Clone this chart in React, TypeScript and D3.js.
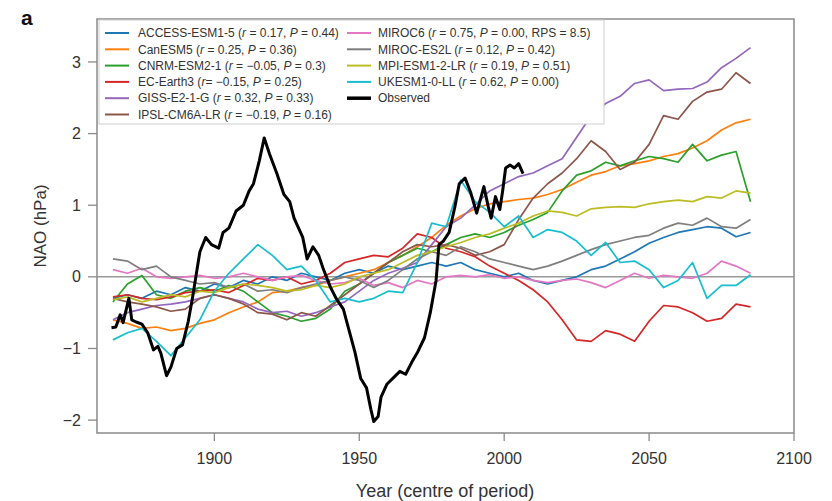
import * as d3 from 'd3';

// model runs, 5-year centred windows
const years = [1865, 1870, 1875, 1880, 1885, 1890, 1895, 1900, 1905, 1910, 1915, 1920, 1925, 1930, 1935, 1940, 1945, 1950, 1955, 1960, 1965, 1970, 1975, 1980, 1985, 1990, 1995, 2000, 2005, 2010, 2015, 2020, 2025, 2030, 2035, 2040, 2045, 2050, 2055, 2060, 2065, 2070, 2075, 2080, 2085];

const accessEsm = [-0.3, -0.25, -0.3, -0.2, -0.25, -0.15, -0.2, -0.1, -0.15, -0.05, -0.1, 0.0, -0.05, 0.05, 0.0, -0.05, 0.05, 0.1, 0.05, 0.15, 0.1, 0.15, 0.2, 0.15, 0.2, 0.1, 0.05, 0.0, 0.05, -0.05, -0.1, -0.05, 0.0, 0.1, 0.15, 0.25, 0.35, 0.47, 0.55, 0.62, 0.66, 0.7, 0.68, 0.56, 0.62];
const canEsm = [-0.6, -0.65, -0.72, -0.7, -0.75, -0.72, -0.65, -0.6, -0.5, -0.42, -0.35, -0.22, -0.2, -0.15, -0.12, -0.05, 0.0, 0.05, 0.1, 0.2, 0.3, 0.42, 0.55, 0.72, 0.85, 0.95, 1.02, 1.05, 1.08, 1.1, 1.15, 1.22, 1.32, 1.42, 1.47, 1.55, 1.58, 1.62, 1.68, 1.72, 1.8, 1.9, 2.05, 2.15, 2.2];
const cnrmEsm = [-0.35, -0.1, 0.02, -0.25, -0.3, -0.2, -0.15, -0.2, -0.12, -0.2, -0.35, -0.5, -0.55, -0.62, -0.58, -0.45, -0.2, -0.1, 0.05, 0.2, 0.3, 0.4, 0.35, 0.45, 0.55, 0.6, 0.55, 0.62, 0.72, 0.8, 0.9, 1.2, 1.42, 1.48, 1.6, 1.55, 1.62, 1.68, 1.65, 1.6, 1.85, 1.62, 1.7, 1.75, 1.05];
const ecEarth = [-0.28, -0.25, -0.3, -0.32, -0.28, -0.22, -0.2, -0.18, -0.22, -0.12, -0.02, -0.05, 0.0, -0.1, -0.05, 0.05, 0.2, 0.25, 0.3, 0.28, 0.4, 0.6, 0.55, 0.4, 0.35, 0.28, 0.15, 0.05, -0.05, -0.18, -0.35, -0.6, -0.88, -0.9, -0.75, -0.8, -0.9, -0.62, -0.4, -0.42, -0.5, -0.62, -0.58, -0.38, -0.42];
const gissE2 = [-0.6, -0.5, -0.45, -0.4, -0.38, -0.35, -0.3, -0.25, -0.3, -0.35, -0.45, -0.5, -0.48, -0.55, -0.5, -0.42, -0.35, -0.2, -0.05, 0.05, 0.12, 0.2, 0.45, 0.7, 0.82, 1.0, 1.2, 1.3, 1.4, 1.45, 1.55, 1.65, 1.95, 2.25, 2.42, 2.52, 2.7, 2.75, 2.6, 2.62, 2.63, 2.72, 2.92, 3.05, 3.2];
const ipslCm6 = [-0.3, -0.35, -0.38, -0.42, -0.48, -0.45, -0.3, -0.25, -0.3, -0.38, -0.5, -0.52, -0.6, -0.5, -0.55, -0.4, -0.25, -0.1, 0.05, 0.2, 0.35, 0.45, 0.42, 0.45, 0.4, 0.3, 0.35, 0.45, 0.8, 1.1, 1.3, 1.45, 1.65, 1.9, 1.75, 1.5, 1.6, 1.85, 2.25, 2.2, 2.45, 2.58, 2.62, 2.85, 2.7];
const miroc6 = [0.1, 0.05, 0.12, 0.0, -0.02, 0.0, 0.02, -0.02, 0.0, 0.05, 0.0, -0.05, 0.0, 0.02, -0.05, -0.1, -0.08, -0.02, -0.12, -0.08, -0.15, -0.05, -0.1, 0.0, 0.02, 0.0, 0.03, -0.02, 0.0, -0.05, -0.08, -0.05, -0.03, -0.08, -0.15, -0.05, 0.05, -0.02, 0.02, 0.0, -0.02, 0.05, 0.22, 0.15, 0.05];
const mirocEs2l = [0.25, 0.22, 0.1, 0.15, 0.0, -0.05, -0.1, -0.08, -0.15, -0.1, -0.2, -0.18, -0.22, -0.15, -0.1, -0.05, 0.0, -0.05, -0.15, -0.05, 0.1, 0.25, 0.35, 0.3, 0.42, 0.35, 0.25, 0.2, 0.15, 0.1, 0.15, 0.22, 0.3, 0.38, 0.45, 0.5, 0.55, 0.58, 0.68, 0.75, 0.72, 0.82, 0.7, 0.68, 0.8];
const mpiEsm = [-0.32, -0.28, -0.35, -0.3, -0.25, -0.28, -0.2, -0.22, -0.15, -0.1, -0.12, -0.15, -0.2, -0.18, -0.12, -0.15, -0.1, 0.0, 0.05, 0.1, 0.2, 0.3, 0.35, 0.42, 0.48, 0.55, 0.6, 0.68, 0.75, 0.85, 0.92, 0.9, 0.85, 0.95, 0.97, 0.98, 0.97, 1.02, 1.05, 1.07, 1.05, 1.12, 1.1, 1.2, 1.17];
const ukEsm = [-0.88, -0.78, -0.72, -0.9, -1.1, -0.85, -0.6, -0.2, 0.05, 0.25, 0.45, 0.3, 0.1, 0.15, -0.05, -0.35, -0.3, -0.35, -0.3, -0.2, -0.22, 0.2, 0.75, 0.7, 1.35, 1.05, 0.9, 0.7, 0.85, 0.55, 0.66, 0.62, 0.5, 0.3, 0.48, 0.2, 0.22, 0.1, -0.15, -0.05, 0.2, -0.3, -0.12, -0.12, 0.03];

// observed record
const obsYears = [1864.5, 1866, 1867.5, 1868.5, 1870.5, 1871.5, 1873, 1875, 1877, 1879, 1880.5, 1881.5, 1883.5, 1885, 1887, 1889, 1891, 1892.5, 1894, 1895, 1897, 1899, 1901.5, 1903, 1905, 1907.5, 1910, 1912, 1913.5, 1915.5, 1917.2, 1919, 1921.5, 1924, 1926, 1927.5, 1930.5, 1932, 1934, 1936, 1937.5, 1940, 1942, 1944.5, 1946.5, 1948.5, 1950.5, 1952.5, 1954, 1955, 1956.5, 1957.5, 1959.5, 1962, 1964, 1966, 1968, 1970, 1972.5, 1974.5, 1976.5, 1977.5, 1979, 1981, 1983, 1984.5, 1986.5, 1988.5, 1990.5, 1993, 1994.5, 1995.5, 1997, 1998.5, 1999.5, 2000.5, 2002, 2003.5, 2005, 2006.5];
const obsValues = [-0.71, -0.7, -0.53, -0.64, -0.3, -0.6, -0.63, -0.66, -0.78, -1.02, -0.97, -1.06, -1.38, -1.26, -1.0, -0.95, -0.62, -0.28, 0.1, 0.35, 0.55, 0.45, 0.4, 0.62, 0.68, 0.92, 1.0, 1.2, 1.3, 1.62, 1.94, 1.72, 1.45, 1.15, 1.05, 0.82, 0.55, 0.25, 0.42, 0.3, 0.12, -0.14, -0.3, -0.45, -0.75, -1.05, -1.42, -1.55, -1.85, -2.02, -1.95, -1.68, -1.5, -1.4, -1.32, -1.36, -1.2, -1.06, -0.85, -0.5, -0.05, 0.45, 0.5, 0.62, 0.98, 1.3, 1.38, 1.17, 0.89, 1.26, 0.98, 0.82, 1.12, 0.94, 1.21, 1.52, 1.56, 1.52, 1.58, 1.44];

const modelNames = ['ACCESS-ESM1-5', 'CanESM5', 'CNRM-ESM2-1', 'EC-Earth3', 'GISS-E2-1-G', 'IPSL-CM6A-LR', 'MIROC6', 'MIROC-ES2L', 'MPI-ESM1-2-LR', 'UKESM1-0-LL'];
const modelSeries = [accessEsm, canEsm, cnrmEsm, ecEarth, gissE2, ipslCm6, miroc6, mirocEs2l, mpiEsm, ukEsm];
const modelColors = ['#1f77b4', '#ff7f0e', '#2ca02c', '#d62728', '#9467bd', '#8c564b', '#e377c2', '#7f7f7f', '#bcbd22', '#17becf'];
const rValues = ['0.17', '0.25', '\u22120.05', '\u22120.15', '0.32', '\u22120.19', '0.75', '0.12', '0.19', '0.62'];
const pValues = ['0.44', '0.36', '0.3', '0.25', '0.33', '0.16', '0.00', '0.42', '0.51', '0.00'];
const extraText = ['', '', '', '', '', '', ', RPS = 8.5', '', '', ''];

const yTicks = [-2, -1, 0, 1, 2, 3];
const xTicks = [1900, 1950, 2000, 2050, 2100];

const font = '"Liberation Sans", Arial, sans-serif';

export default function App() {
  const width = 832;
  const height = 501;
  const left = 97, right = 794, top = 19, bottom = 433;

  const x = d3.scaleLinear().domain([1859.5, 2100]).range([left, right]);
  const y = d3.scaleLinear().domain([-2.18, 3.6]).range([bottom, top]);

  const line = d3.line<[number, number]>()
    .x(d => x(d[0]))
    .y(d => y(d[1]));

  const obsPoints = obsYears.map((yr, i) => [yr, obsValues[i]] as [number, number]);

  // legend positions
  const rowY = (i: number) => 33 + i * 16.3;
  const legendItems = modelNames.map((name, i) => ({
    name,
    color: modelColors[i],
    r: rValues[i],
    p: pValues[i],
    extra: extraText[i],
    col: i < 6 ? 0 : 1,
    row: i < 6 ? i : i - 6,
  }));
  const colLineX = [105, 347];
  const colTextX = [138, 378];

  return (
    <svg width={width} height={height} style={{ position: 'absolute', left: 0, top: 0, background: '#fff' }} fontFamily={font}>
      <rect x={0} y={0} width={width} height={height} fill="#fff" />

      <text x={21} y={25} fontSize={21} fontWeight="bold" fill="#111">a</text>

      {/* zero line */}
      <line x1={left} x2={right} y1={y(0)} y2={y(0)} stroke="#9a9a9a" strokeWidth={1.5} />

      {/* model lines */}
      {modelSeries.map((vals, i) => (
        <path
          key={modelNames[i]}
          d={line(years.map((yr, j) => [yr, vals[j]] as [number, number])) || ''}
          fill="none"
          stroke={modelColors[i]}
          strokeWidth={1.7}
          strokeLinejoin="round"
        />
      ))}

      {/* observed */}
      <path d={line(obsPoints) || ''} fill="none" stroke="#000" strokeWidth={3} strokeLinejoin="round" />

      {/* frame */}
      <rect x={left} y={top} width={right - left} height={bottom - top} fill="none" stroke="#8a8a8a" strokeWidth={1.5} />

      {/* y axis */}
      {yTicks.map(t => (
        <g key={'y' + t}>
          <line x1={left - 9} x2={left} y1={y(t)} y2={y(t)} stroke="#8a8a8a" strokeWidth={1.3} />
          <text x={left - 16} y={y(t)} dy="0.35em" textAnchor="end" fontSize={16} fill="#333">
            {t < 0 ? '\u2212' + Math.abs(t) : t}
          </text>
        </g>
      ))}
      <text transform={`translate(46, ${(top + bottom) / 2}) rotate(-90)`} textAnchor="middle" fontSize={17} fill="#333">
        NAO (hPa)
      </text>

      {/* x axis */}
      {xTicks.map(t => (
        <g key={'x' + t}>
          <line x1={x(t)} x2={x(t)} y1={bottom} y2={bottom + 8} stroke="#8a8a8a" strokeWidth={1.3} />
          <text x={x(t)} y={bottom + 31} textAnchor="middle" fontSize={16} fill="#333">{t}</text>
        </g>
      ))}
      <text x={445} y={497} textAnchor="middle" fontSize={18} fill="#333">Year (centre of period)</text>

      {/* legend */}
      <rect x={99} y={20} width={505} height={104} fill="#fff" stroke="#cfcfcf" strokeWidth={1} />
      {legendItems.map(it => (
        <g key={it.name}>
          <line x1={colLineX[it.col]} x2={colLineX[it.col] + 24} y1={rowY(it.row)} y2={rowY(it.row)} stroke={it.color} strokeWidth={2} />
          <text x={colTextX[it.col]} y={rowY(it.row)} dy="0.35em" fontSize={12} fill="#333">
            {it.name} (<tspan fontStyle="italic">r</tspan>{it.name === 'EC-Earth3' ? '= ' : ' = '}{it.r}, <tspan fontStyle="italic">P</tspan> = {it.p}{it.extra})
          </text>
        </g>
      ))}
      <line x1={colLineX[1]} x2={colLineX[1] + 24} y1={rowY(4)} y2={rowY(4)} stroke="#000" strokeWidth={3.5} />
      <text x={colTextX[1]} y={rowY(4)} dy="0.35em" fontSize={12} fill="#333">Observed</text>
    </svg>
  );
}
